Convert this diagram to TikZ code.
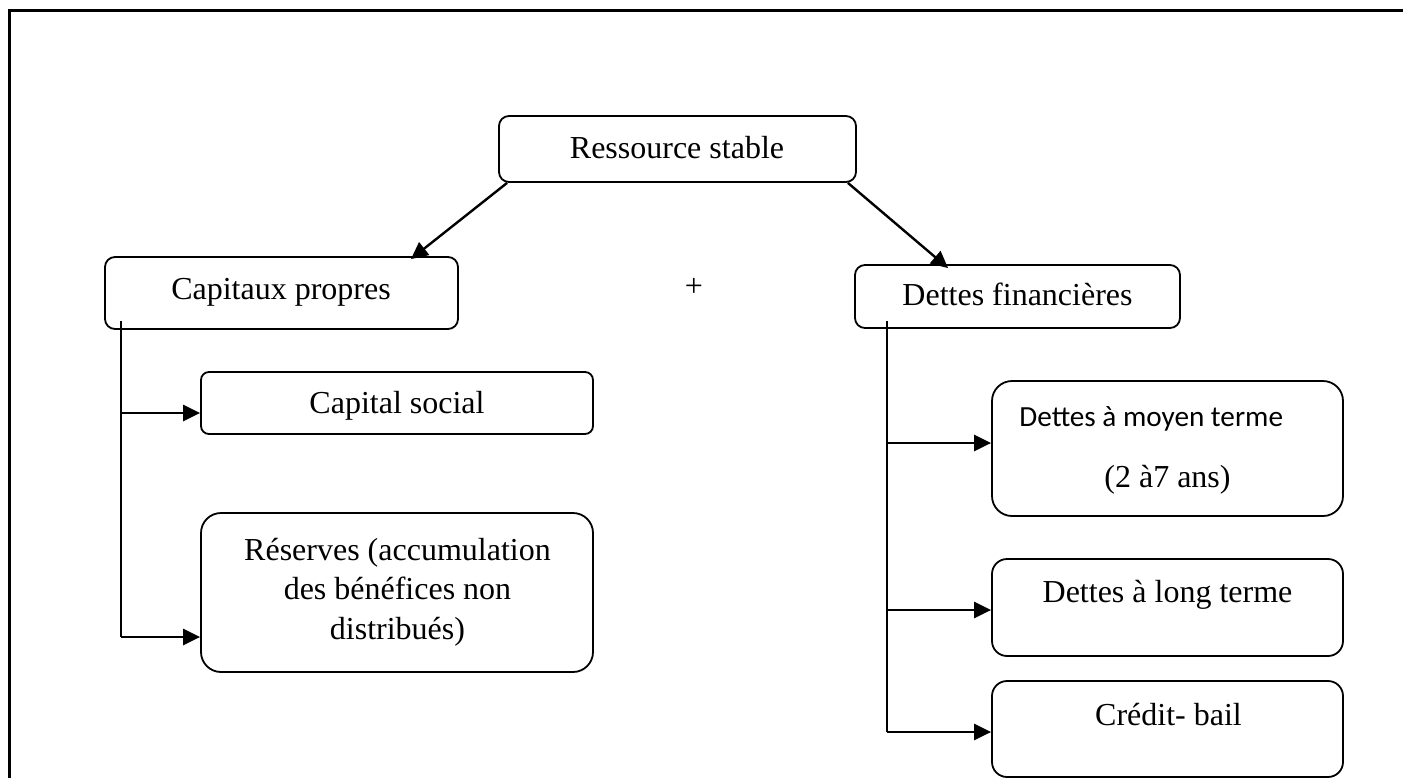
\documentclass[tikz,border=0pt]{standalone}
\usepackage{fontspec}
\setmainfont{Liberation Serif}
\newfontfamily\calibrifont{Carlito}
\usetikzlibrary{arrows.meta,calc}
\begin{document}
\begin{tikzpicture}[x=0.5pt,y=-0.5pt,
  box/.style={draw, line width=0.9pt, rounded corners=#1, inner sep=0pt},
  txt/.style={inner sep=0pt, font=\fontsize{16}{19.75}\selectfont, anchor=base},
  conn/.style={line width=1.2pt},
  arr/.style={conn, -{Triangle[length=8.5pt,width=8pt]}}]
\useasboundingbox (0,0) rectangle (1403,778);
% frame
\draw[line width=1.3pt] (9.5,778) -- (9.5,10.5) -- (1403,10.5);
% boxes
\node[box=5pt, minimum width=178.5pt, minimum height=33pt] (rs) at (677.5,149) {};
\node[box=5pt, minimum width=176.5pt, minimum height=36pt] (cp) at (281.5,293) {};
\node[box=4pt, minimum width=196pt, minimum height=31pt] (cs) at (397,403) {};
\node[box=10pt, minimum width=196pt, minimum height=79.5pt] (res) at (397,592.5) {};
\node[box=5pt, minimum width=162.5pt, minimum height=31.5pt] (df) at (1017.5,296.5) {};
\node[box=10pt, minimum width=175.5pt, minimum height=67.5pt] (mt) at (1167.5,448.5) {};
\node[box=7.5pt, minimum width=175.5pt, minimum height=48.5pt] (lt) at (1167.5,607.5) {};
\node[box=7.5pt, minimum width=175.5pt, minimum height=48pt] (cb) at (1167.5,729) {};
% texts
\node[txt] (trs) at (677,158) {Ressource stable};
\node[txt] (tcp) at (281,299) {Capitaux propres};
\node[txt] (tcs) at (397,413) {Capital social};
\node[txt, align=center] (tres) at (397.5,639) {Réserves (accumulation\\des bénéfices non\\distribués)};
\node[txt] (tdf) at (1017.5,305.5) {Dettes financières};
\node[txt, anchor=base west, font=\calibrifont\fontsize{14.6}{17}\selectfont] (tmt1) at (1019,426) {Dettes à moyen terme};
\node[txt] (tmt2) at (1167.5,487) {(2 à7 ans)};
\node[txt] (tlt) at (1167.5,602) {Dettes à long terme};
\node[txt] (tcb) at (1168.5,725) {Crédit- bail};
\node[txt, anchor=center] (plus) at (694,287) {+};
% connectors
\draw[arr] ($(rs.south west)+(9,0)$) -- ($(cp.north east)+(-48,3)$);
\draw[arr] ($(rs.south east)+(-9,0)$) -- ($(df.north west)+(94,4)$);
\coordinate (L0) at (121,321);
\coordinate (L1) at (121,413);
\coordinate (L2) at (121,637);
\draw[conn] (L0) -- (L2);
\draw[arr] (L1) -- (L1 -| cs.west);
\draw[arr] (L2) -- (L2 -| res.west);
\coordinate (R0) at (887,321);
\coordinate (R1) at (887,443);
\coordinate (R2) at (887,610);
\coordinate (R3) at (887,732);
\draw[conn] (R0) -- (R3);
\draw[arr] (R1) -- (R1 -| mt.west);
\draw[arr] (R2) -- (R2 -| lt.west);
\draw[arr] (R3) -- (R3 -| cb.west);
\end{tikzpicture}
\end{document}
